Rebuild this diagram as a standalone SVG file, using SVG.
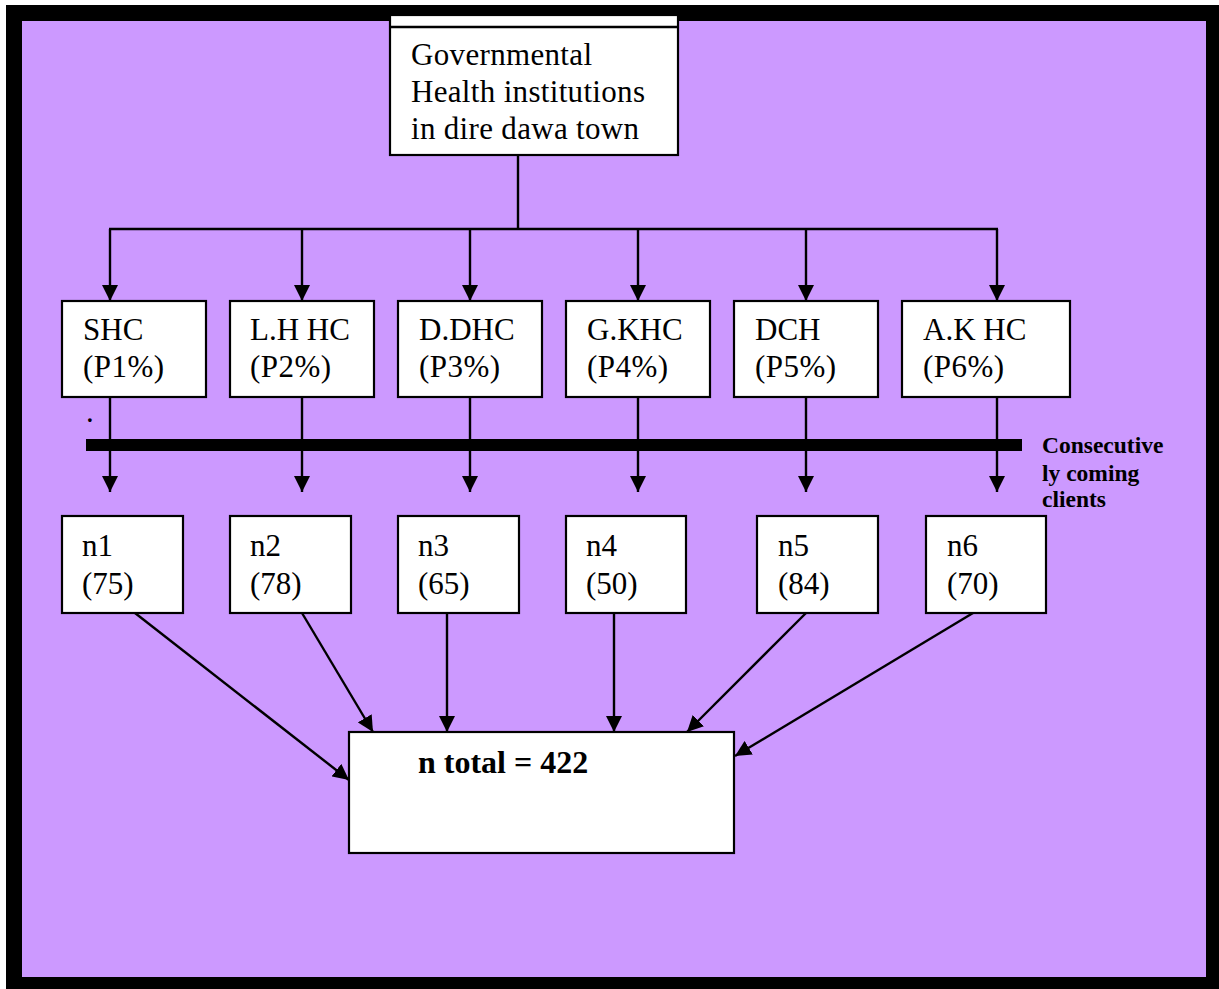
<svg xmlns="http://www.w3.org/2000/svg" width="1219" height="989" viewBox="0 0 1219 989">
<defs>
<style>
.box{fill:#fff;stroke:#000;stroke-width:2.2}
.ln{fill:none;stroke:#000;stroke-width:2.4}
.t{font-family:"Liberation Serif","Times New Roman",serif;font-size:31px;fill:#000}
.b{font-family:"Liberation Serif","Times New Roman",serif;font-weight:bold;fill:#000}
</style>
<marker id="ah" markerUnits="userSpaceOnUse" markerWidth="16" markerHeight="16" viewBox="0 0 16 16" refX="16" refY="8" orient="auto">
<path d="M0,0 L16,8 L0,16 Z" fill="#000"/>
</marker>
</defs>
<rect x="6" y="5" width="1213" height="984" fill="#000"/>
<rect x="22" y="21" width="1184" height="956" fill="#CC99FF"/>

<g id="connectors">
<line class="ln" x1="518" y1="155" x2="518" y2="229"/>
<line class="ln" x1="109" y1="229" x2="998" y2="229"/>
<line class="ln" x1="110" y1="229" x2="110" y2="301" marker-end="url(#ah)"/>
<line class="ln" x1="302" y1="229" x2="302" y2="301" marker-end="url(#ah)"/>
<line class="ln" x1="470" y1="229" x2="470" y2="301" marker-end="url(#ah)"/>
<line class="ln" x1="638" y1="229" x2="638" y2="301" marker-end="url(#ah)"/>
<line class="ln" x1="806" y1="229" x2="806" y2="301" marker-end="url(#ah)"/>
<line class="ln" x1="997" y1="229" x2="997" y2="301" marker-end="url(#ah)"/>
<line class="ln" x1="110" y1="397" x2="110" y2="492" marker-end="url(#ah)"/>
<line class="ln" x1="302" y1="397" x2="302" y2="492" marker-end="url(#ah)"/>
<line class="ln" x1="470" y1="397" x2="470" y2="492" marker-end="url(#ah)"/>
<line class="ln" x1="638" y1="397" x2="638" y2="492" marker-end="url(#ah)"/>
<line class="ln" x1="806" y1="397" x2="806" y2="492" marker-end="url(#ah)"/>
<line class="ln" x1="997" y1="397" x2="997" y2="492" marker-end="url(#ah)"/>
<rect x="86" y="439" width="936" height="12" fill="#000"/>
<line class="ln" x1="135" y1="613" x2="349" y2="780" marker-end="url(#ah)"/>
<line class="ln" x1="302" y1="613" x2="373" y2="732" marker-end="url(#ah)"/>
<line class="ln" x1="447" y1="613" x2="447" y2="732" marker-end="url(#ah)"/>
<line class="ln" x1="614" y1="613" x2="614" y2="732" marker-end="url(#ah)"/>
<line class="ln" x1="806" y1="613" x2="687" y2="732" marker-end="url(#ah)"/>
<line class="ln" x1="973" y1="613" x2="735" y2="756" marker-end="url(#ah)"/>
</g>

<g id="top">
<rect class="box" x="390" y="15" width="288" height="140"/>
<line class="ln" x1="390" y1="27" x2="678" y2="27" stroke-width="2"/>
<text class="t" x="411" y="65" textLength="181" lengthAdjust="spacing">Governmental</text>
<text class="t" x="411" y="102" textLength="234" lengthAdjust="spacing">Health institutions</text>
<text class="t" x="411" y="139" textLength="228" lengthAdjust="spacing">in dire dawa town</text>
</g>

<g id="shc"><rect class="box" x="62" y="301" width="144" height="96"/><text class="t" x="83" y="340">SHC</text><text class="t" x="83" y="377" textLength="81" lengthAdjust="spacing">(P1%)</text></g>
<g id="lhhc"><rect class="box" x="230" y="301" width="144" height="96"/><text class="t" x="250" y="340">L.H HC</text><text class="t" x="250" y="377" textLength="81" lengthAdjust="spacing">(P2%)</text></g>
<g id="ddhc"><rect class="box" x="398" y="301" width="144" height="96"/><text class="t" x="419" y="340">D.DHC</text><text class="t" x="419" y="377" textLength="81" lengthAdjust="spacing">(P3%)</text></g>
<g id="gkhc"><rect class="box" x="566" y="301" width="144" height="96"/><text class="t" x="587" y="340">G.KHC</text><text class="t" x="587" y="377" textLength="81" lengthAdjust="spacing">(P4%)</text></g>
<g id="dch"><rect class="box" x="734" y="301" width="144" height="96"/><text class="t" x="755" y="340">DCH</text><text class="t" x="755" y="377" textLength="81" lengthAdjust="spacing">(P5%)</text></g>
<g id="akhc"><rect class="box" x="902" y="301" width="168" height="96"/><text class="t" x="923" y="340">A.K HC</text><text class="t" x="923" y="377" textLength="81" lengthAdjust="spacing">(P6%)</text></g>

<text class="t" x="86" y="422" font-size="8">.</text>
<g id="label-consecutive">
<text class="b" font-size="23.5" x="1042" y="453">Consecutive</text>
<text class="b" font-size="23.5" x="1042" y="481">ly coming</text>
<text class="b" font-size="23.5" x="1042" y="507">clients</text>
</g>

<g id="n1"><rect class="box" x="62" y="516" width="121" height="97"/><text class="t" x="82" y="556">n1</text><text class="t" x="82" y="594">(75)</text></g>
<g id="n2"><rect class="box" x="230" y="516" width="121" height="97"/><text class="t" x="250" y="556">n2</text><text class="t" x="250" y="594">(78)</text></g>
<g id="n3"><rect class="box" x="398" y="516" width="121" height="97"/><text class="t" x="418" y="556">n3</text><text class="t" x="418" y="594">(65)</text></g>
<g id="n4"><rect class="box" x="566" y="516" width="120" height="97"/><text class="t" x="586" y="556">n4</text><text class="t" x="586" y="594">(50)</text></g>
<g id="n5"><rect class="box" x="757" y="516" width="121" height="97"/><text class="t" x="778" y="556">n5</text><text class="t" x="778" y="594">(84)</text></g>
<g id="n6"><rect class="box" x="926" y="516" width="120" height="97"/><text class="t" x="947" y="556">n6</text><text class="t" x="947" y="594">(70)</text></g>

<g id="total"><rect class="box" x="349" y="732" width="385" height="121"/><text class="b" font-size="32" x="418" y="773">n total = 422</text></g>
</svg>
